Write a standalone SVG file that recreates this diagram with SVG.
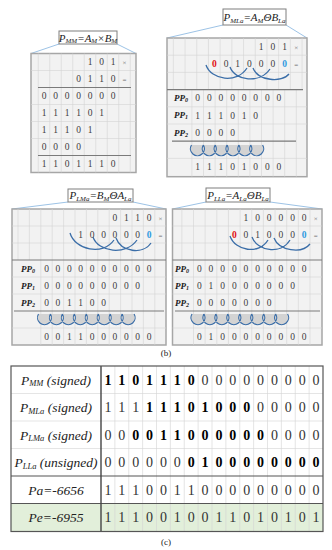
<svg xmlns="http://www.w3.org/2000/svg" width="332" height="550" viewBox="0 0 332 550">
<style>
.frame{fill:#f2f2f2;stroke:#a6a6a6;stroke-width:1.5}
.g{stroke:#d4d4d4;stroke-width:0.6;fill:none}
.tk{stroke:#7a7a7a;stroke-width:1.2;fill:none}
.d{font-family:"Liberation Serif",serif;font-size:9.5px;fill:#404040;text-anchor:middle}
.op{font-size:7px;fill:#666}
.red{fill:#e01010;font-weight:bold}
.blu{fill:#2f9ae0;font-weight:bold}
.pp{font-family:"Liberation Serif",serif;font-size:9px;font-weight:bold;font-style:italic;fill:#222;text-anchor:middle}
.ps{font-size:6px}
.ttl{fill:#fff;stroke:#7f7f7f;stroke-width:1}
.t{font-family:"Liberation Serif",serif;font-style:italic;font-size:11px;fill:#222;text-anchor:middle}
.s{font-size:7px}
.arc{fill:none;stroke:#3b6ea8;stroke-width:1.3}
.cup{fill:#d3d3d3;stroke:#3b6ea8;stroke-width:1.2}
.con{stroke:#9dc3e6;stroke-width:1;fill:none}
.b{font-family:"Liberation Serif",serif;font-size:14px;fill:#333;text-anchor:middle}
.bb{font-weight:bold;fill:#000}
.lab{font-family:"Liberation Serif",serif;font-style:italic;font-size:13.5px;fill:#222;text-anchor:middle}
.ls{font-size:8.5px}
.cap{font-family:"Liberation Serif",serif;font-size:9px;fill:#222;text-anchor:middle}
</style>

<g id="connectors">
<path class="con" d="M59,44 L31,53.5 M117,44 L136,53.5"/>
<path class="con" d="M223,25 L167,38 M286,25 L307,38"/>
<path class="con" d="M68,202 L12,209 M133,202 L166,209"/>
<path class="con" d="M206,202 L172.5,209 M270,202 L322,209"/>
</g>

<g id="panel-mm">
<rect class="frame" x="31" y="53.5" width="105" height="119"/>
<path class="g" d="M38.25,53.5V172.5M49.75,53.5V172.5M61.25,53.5V172.5M72.75,53.5V172.5M84.25,53.5V172.5M95.75,53.5V172.5M107.25,53.5V172.5M118.75,53.5V172.5M130.25,53.5V172.5M31,70.5H136M31,104.5H136M31,121.5H136M31,138.5H136"/>
<path class="tk" d="M38,87.5H131M38,155.5H131"/>
<text class="d" x="90 101.5 113" y="65.3">101</text>
<text class="d op" x="124.5" y="65">×</text>
<text class="d" x="78.5 90 101.5 113" y="82.3">0110</text>
<text class="d op" x="124.5" y="82">=</text>
<text class="d" x="44 55.5 67 78.5 90 101.5 113" y="99.3">0000000</text>
<text class="d" x="44 55.5 67 78.5 90 101.5" y="116.3">111101</text>
<text class="d" x="44 55.5 67 78.5 90" y="133.3">11101</text>
<text class="d" x="44 55.5 67 78.5" y="150.3">0000</text>
<text class="d" x="44 55.5 67 78.5 90 101.5 113" y="167.3">1101110</text>
</g>
<g id="title-mm">
<rect class="ttl" x="59" y="31" width="58" height="13"/>
<text class="t" x="88" y="41.5">P<tspan class="s" dy="1.5">MM</tspan><tspan dy="-1.5">=A</tspan><tspan class="s" dy="1.5">M</tspan><tspan dy="-1.5">×B</tspan><tspan class="s" dy="1.5">M</tspan></text>
</g>

<g id="panel-mla">
<rect class="frame" x="167" y="38" width="140" height="138.7"/>
<path class="g" d="M173.35,38V89.6M185.05,38V89.6M196.75,38V89.6M208.45,38V89.6M220.15,38V89.6M231.85,38V89.6M243.55,38V89.6M255.25,38V89.6M266.95,38V89.6M278.65,38V89.6M290.35,38V89.6M302.05,38V89.6M191.9,89.6V176.7M203.5,89.6V176.7M215.1,89.6V176.7M226.7,89.6V176.7M238.3,89.6V176.7M249.9,89.6V176.7M261.5,89.6V176.7M273.1,89.6V176.7M284.7,89.6V176.7M296.3,89.6V176.7M167,55.2H307M167,72.4H307M167,106.8H307M167,124H307M167,158.4H307"/>
<path class="tk" d="M167,89.6H303M172,141.2H296"/>
<text class="d" x="261.1 272.8 284.5" y="49.8">101</text>
<text class="d op" x="296.2" y="49.6">×</text>
<text class="d red" x="214.3" y="67">0</text>
<text class="d" x="226 237.7 249.4 261.1 272.8" y="67">01000</text>
<text class="d blu" x="284.5" y="67">0</text>
<text class="d op" x="296.2" y="66.8">=</text>
<path class="arc" d="M206,65 C211,80 237,84 247,68 M230,67 C235,81 260,84 270,69 M253,68 C258,81 282,83 289,74"/>
<text class="pp" x="181" y="101.2">PP<tspan class="ps" dy="1">0</tspan></text>
<text class="pp" x="181" y="118.4">PP<tspan class="ps" dy="1">1</tspan></text>
<text class="pp" x="181" y="135.6">PP<tspan class="ps" dy="1">2</tspan></text>
<text class="d" x="197.7 209.3 220.9 232.5 244.1 255.7 267.3 278.9" y="101.4">00000000</text>
<text class="d" x="197.7 209.3 220.9 232.5 244.1 255.7" y="118.6">111010</text>
<text class="d" x="197.7 209.3 220.9 232.5" y="135.8">0000</text>
<path class="cup" d="M191.5,145A7,7 0 1 0 203.35,145M203.35,145A7,7 0 1 0 215.2,145M215.2,145A7,7 0 1 0 227.05,145M227.05,145A7,7 0 1 0 238.9,145M238.9,145A7,7 0 1 0 250.75,145M250.75,145A7,7 0 1 0 262.6,145"/>
<text class="d" x="197.7 209.3 220.9 232.5 244.1 255.7 267.3 278.9" y="170.2">11101000</text>
</g>
<g id="title-mla">
<rect class="ttl" x="223" y="9" width="63" height="16"/>
<text class="t" x="254.5" y="21">P<tspan class="s" dy="1.5">MLa</tspan><tspan dy="-1.5">=A</tspan><tspan class="s" dy="1.5">M</tspan><tspan dy="-1.5">ΘB</tspan><tspan class="s" dy="1.5">La</tspan></text>
</g>

<g id="panel-lma">
<rect class="frame" x="12" y="209" width="154" height="136"/>
<path class="g" d="M18,209V260M29.4,209V260M40.8,209V345M52.2,209V345M63.6,209V345M75,209V345M86.4,209V345M97.8,209V345M109.2,209V345M120.6,209V345M132,209V345M143.4,209V345M154.8,209V345M12,226H166M12,243H166M12,277H166M12,294H166M12,328H166"/>
<path class="tk" d="M12,260H166M14,311H164"/>
<text class="d" x="114.9 126.3 137.7 149.1" y="220.7">0110</text>
<text class="d op" x="160.5" y="220.5">×</text>
<text class="d" x="80.7 92.1 103.5 114.9 126.3 137.7" y="237.7">100000</text>
<text class="d blu" x="149.1" y="237.7">0</text>
<text class="d op" x="160.5" y="237.5">=</text>
<path class="arc" d="M70,233 C75,250 103,256 114,240 M93,237 C98,252 126,256 137,240 M116,238 C121,252 143,255 151,243"/>
<text class="pp" x="28" y="271.5">PP<tspan class="ps" dy="1">0</tspan></text>
<text class="pp" x="28" y="288.5">PP<tspan class="ps" dy="1">1</tspan></text>
<text class="pp" x="28" y="305.5">PP<tspan class="ps" dy="1">2</tspan></text>
<text class="d" x="46.5 57.9 69.3 80.7 92.1 103.5 114.9 126.3 137.7 149.1" y="271.7">0000000000</text>
<text class="d" x="46.5 57.9 69.3 80.7 92.1 103.5 114.9 126.3 137.7" y="288.7">000000000</text>
<text class="d" x="46.5 57.9 69.3 80.7 92.1 103.5" y="305.7">001100</text>
<path class="cup" d="M38.5,314A7,7 0 1 0 50.45,314M50.45,314A7,7 0 1 0 62.4,314M62.4,314A7,7 0 1 0 74.35,314M74.35,314A7,7 0 1 0 86.3,314M86.3,314A7,7 0 1 0 98.25,314M98.25,314A7,7 0 1 0 110.2,314M110.2,314A7,7 0 1 0 122.15,314M122.15,314A7,7 0 1 0 134.1,314"/>
<text class="d" x="46.5 57.9 69.3 80.7 92.1 103.5 114.9 126.3 137.7 149.1" y="339.7">0011000000</text>
</g>
<g id="title-lma">
<rect class="ttl" x="68" y="189" width="65" height="13"/>
<text class="t" x="100.5" y="199.2">P<tspan class="s" dy="1.5">LMa</tspan><tspan dy="-1.5">=B</tspan><tspan class="s" dy="1.5">M</tspan><tspan dy="-1.5">ΘA</tspan><tspan class="s" dy="1.5">La</tspan></text>
</g>

<g id="panel-lla">
<rect class="frame" x="172.5" y="209" width="149.5" height="136"/>
<path class="g" d="M181.85,209V260M193.5,209V345M205.15,209V345M216.8,209V345M228.45,209V345M240.1,209V345M251.75,209V345M263.4,209V345M275.05,209V345M286.7,209V345M298.35,209V345M310,209V345M172.5,226H322M172.5,243H322M172.5,277H322M172.5,294H322M172.5,328H322"/>
<path class="tk" d="M172.5,260H322M175,311H320"/>
<text class="d" x="245.9 257.55 269.2 280.85 292.5 304.15" y="220.7">100000</text>
<text class="d op" x="315.8" y="220.5">×</text>
<text class="d red" x="234.25" y="237.7">0</text>
<text class="d" x="245.9 257.55 269.2 280.85 292.5" y="237.7">01000</text>
<text class="d blu" x="304.15" y="237.7">0</text>
<text class="d op" x="315.8" y="237.5">=</text>
<path class="arc" d="M230,236 C235,251 259,255 268,240 M252,237 C257,251 281,255 290,240 M274,238 C279,251 302,254 310,244"/>
<text class="pp" x="182" y="271.5">PP<tspan class="ps" dy="1">0</tspan></text>
<text class="pp" x="182" y="288.5">PP<tspan class="ps" dy="1">1</tspan></text>
<text class="pp" x="182" y="305.5">PP<tspan class="ps" dy="1">2</tspan></text>
<text class="d" x="199.3 210.95 222.6 234.25 245.9 257.55 269.2 280.85 292.5 304.15" y="271.7">0000000000</text>
<text class="d" x="199.3 210.95 222.6 234.25 245.9 257.55 269.2 280.85 292.5" y="288.7">010000000</text>
<text class="d" x="199.3 210.95 222.6 234.25 245.9 257.55 269.2" y="305.7">0000000</text>
<path class="cup" d="M192,314A7,7 0 1 0 203.95,314M203.95,314A7,7 0 1 0 215.9,314M215.9,314A7,7 0 1 0 227.85,314M227.85,314A7,7 0 1 0 239.8,314M239.8,314A7,7 0 1 0 251.75,314M251.75,314A7,7 0 1 0 263.7,314M263.7,314A7,7 0 1 0 275.65,314M275.65,314A7,7 0 1 0 287.6,314"/>
<text class="d" x="199.3 210.95 222.6 234.25 245.9 257.55 269.2 280.85 292.5 304.15" y="339.7">0100000000</text>
</g>
<g id="title-lla">
<rect class="ttl" x="206" y="188" width="64" height="14"/>
<text class="t" x="238" y="199.2">P<tspan class="s" dy="1.5">LLa</tspan><tspan dy="-1.5">=A</tspan><tspan class="s" dy="1.5">La</tspan><tspan dy="-1.5">ΘB</tspan><tspan class="s" dy="1.5">La</tspan></text>
</g>

<text class="cap" x="166" y="356">(b)</text>

<g id="table-c">
<rect x="11" y="503.5" width="312" height="28" fill="#e2efda"/>
<path class="g" d="M114.875,366V531.5M128.75,366V531.5M142.625,366V531.5M156.5,366V531.5M170.375,366V531.5M184.25,366V531.5M198.125,366V531.5M212,366V531.5M225.875,366V531.5M239.75,366V531.5M253.625,366V531.5M267.5,366V531.5M281.375,366V531.5M295.25,366V531.5M309.125,366V531.5M11,393.5H323M11,421H323M11,448.5H323"/>
<path d="M11,476H323M11,503.5H323" stroke="#555" stroke-width="1.2" fill="none"/>
<path d="M101,366V531.5" stroke="#444" stroke-width="1.4" fill="none"/>
<rect x="11" y="366" width="312" height="165.5" fill="none" stroke="#555" stroke-width="1.2"/>
<text class="lab" x="56" y="384.5">P<tspan class="ls" dy="1.5">MM</tspan><tspan dy="-1.5"> (signed)</tspan></text>
<text class="lab" x="56" y="412">P<tspan class="ls" dy="1.5">MLa</tspan><tspan dy="-1.5"> (signed)</tspan></text>
<text class="lab" x="56" y="439.5">P<tspan class="ls" dy="1.5">LMa</tspan><tspan dy="-1.5"> (signed)</tspan></text>
<text class="lab" x="56" y="467">P<tspan class="ls" dy="1.5">LLa</tspan><tspan dy="-1.5"> (unsigned)</tspan></text>
<text class="lab" x="56" y="494.5">Pa=-6656</text>
<text class="lab" x="56" y="522">Pe=-6955</text>
<text class="b" y="384.6"><tspan class="bb" x="107.94 121.81 135.69 149.56 163.44 177.31 191.19">1101110</tspan><tspan x="205.06 218.94 232.81 246.69 260.56 274.44 288.31 302.19 316.06">000000000</tspan></text>
<text class="b" y="412.1"><tspan x="107.94 121.81 135.69">111</tspan><tspan class="bb" x="149.56 163.44 177.31 191.19 205.06 218.94 232.81 246.69">11101000</tspan><tspan x="260.56 274.44 288.31 302.19 316.06">00000</tspan></text>
<text class="b" y="439.6"><tspan x="107.94 121.81">00</tspan><tspan class="bb" x="135.69 149.56 163.44 177.31 191.19 205.06 218.94 232.81 246.69 260.56">0011000000</tspan><tspan x="274.44 288.31 302.19 316.06">0000</tspan></text>
<text class="b" y="467.1"><tspan x="107.94 121.81 135.69 149.56 163.44 177.31">000000</tspan><tspan class="bb" x="191.19 205.06 218.94 232.81 246.69 260.56 274.44 288.31 302.19 316.06">0100000000</tspan></text>
<text class="b" y="494.6" x="107.94 121.81 135.69 149.56 163.44 177.31 191.19 205.06 218.94 232.81 246.69 260.56 274.44 288.31 302.19 316.06">1110011000000000</text>
<text class="b" y="522.1" x="107.94 121.81 135.69 149.56 163.44 177.31 191.19 205.06 218.94 232.81 246.69 260.56 274.44 288.31 302.19 316.06">1110010011010101</text>
</g>

<text class="cap" x="166" y="545">(c)</text>
</svg>
